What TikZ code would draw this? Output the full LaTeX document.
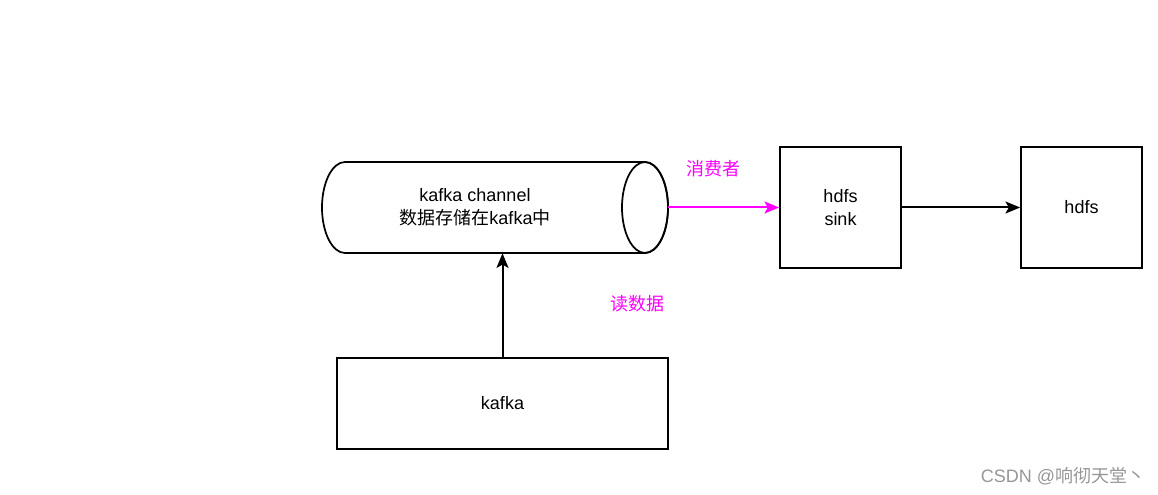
\documentclass[tikz,border=0pt]{standalone}
\usepackage{fontspec}
\setmainfont{Liberation Sans}
\newfontfamily\cjk{Noto Sans CJK SC}
\usetikzlibrary{arrows.meta}
\definecolor{mag}{RGB}{255,0,255}
\definecolor{wm}{RGB}{150,150,150}
\tikzset{
  box/.style={draw, line width=1.3pt, inner sep=0pt, font=\fontsize{13.5pt}{17pt}\selectfont, align=center},
  conn/.style={line width=1.5pt, -{Stealth[length=11pt,width=9pt,inset=2.5pt]}},
  lab/.style={font=\fontsize{13.5pt}{17pt}\selectfont, text=mag, inner sep=0pt}
}
\begin{document}
\begin{tikzpicture}[x=0.75pt,y=-0.75pt]
\useasboundingbox (0,0) rectangle (1158,495);
% cylinder body
\draw[line width=1.3pt] (345,162) -- (645,162)
  arc[start angle=-90, end angle=90, x radius=23, y radius=45.5]
  -- (345,253)
  arc[start angle=90, end angle=270, x radius=23, y radius=45.5] -- cycle;
\draw[line width=1.3pt] (645,207.5) ellipse[x radius=23, y radius=45.5];
\node[inner sep=0pt, minimum width=346*0.75pt, minimum height=91*0.75pt] (cyl) at (495,207.5) {};
\node[font=\fontsize{13.5pt}{17pt}\selectfont, align=center, inner sep=0pt] (cyltext) at (475,207) {kafka channel\\{\cjk 数据存储在}kafka{\cjk 中}};
% boxes
\node[box, minimum width=121*0.75pt, minimum height=121*0.75pt] (sink) at (840.5,207.5) {hdfs\\sink};
\node[box, minimum width=121*0.75pt, minimum height=121*0.75pt] (hdfs) at (1081.5,207.5) {hdfs};
\node[box, minimum width=331*0.75pt, minimum height=91*0.75pt] (kafka) at (502.5,403.5) {kafka};
% connectors
\draw[conn, color=mag] (cyl.east) -- (sink.west);
\draw[conn] (sink.east) -- (hdfs.west);
\draw[conn] (kafka.north) -- (kafka.north |- cyl.south);
% labels
\node[lab] (consumer) at (713,169) {\cjk 消费者};
\node[lab] (read) at (637,304) {\cjk 读数据};
\node[font=\fontsize{13.5pt}{17pt}\selectfont, text=wm, inner sep=0pt] (wmark) at (1063,476) {CSDN @{\cjk 响彻天堂丶}};
\end{tikzpicture}
\end{document}
